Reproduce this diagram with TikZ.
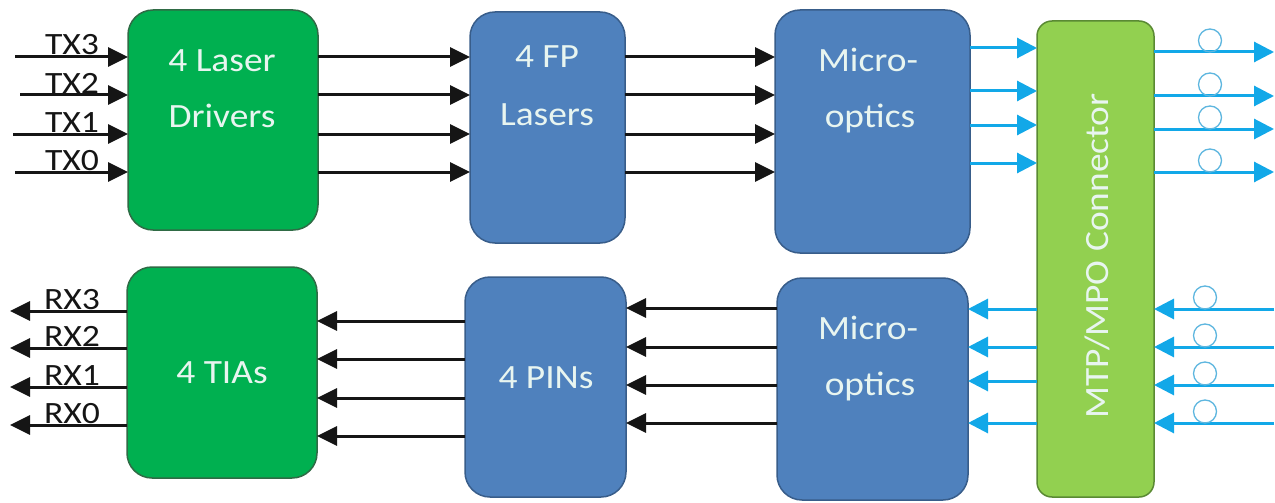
\documentclass[tikz,border=0pt]{standalone}
\usepackage{fontspec}
\setmainfont{Carlito}
\newfontfamily\boxfont[FakeStretch=1.1]{Carlito}
\newfontfamily\lblfont[FakeStretch=1.15]{Carlito}
\usetikzlibrary{arrows.meta}
\definecolor{gfill}{HTML}{00B050}
\definecolor{gdraw}{HTML}{2F6B45}
\definecolor{bfill}{HTML}{4F81BD}
\definecolor{bdraw}{HTML}{385D8A}
\definecolor{cfill}{HTML}{92D050}
\definecolor{cdraw}{HTML}{5A8A33}
\definecolor{txtc}{HTML}{E8F5F0}
\definecolor{lc}{HTML}{151515}
\definecolor{bc}{HTML}{12A8E8}
\definecolor{lpc}{HTML}{5DB6DF}
\tikzset{
  box/.style={rounded corners=25pt, inner sep=0pt, outer sep=0pt, line width=1.5pt},
  gbox/.style={box, fill=gfill, draw=gdraw},
  bbox/.style={box, fill=bfill, draw=bdraw},
  cbox/.style={box, rounded corners=15pt, fill=cfill, draw=cdraw},
  txt/.style={text=txtc, font=\boxfont\fontsize{34}{40}\selectfont, anchor=base, inner sep=0pt},
  lbl/.style={text=lc, font=\lblfont\fontsize{31}{36}\selectfont, anchor=base, inner sep=0pt},
  arr/.style={line width=3pt, draw=lc, -{Triangle[length=20pt 0 0,width=19pt 0 0]}},
  barr/.style={line width=3pt, draw=bc, -{Triangle[length=20pt 0 0,width=20pt 0 0]}},
  loopc/.style={draw=lpc, line width=1.3pt}
}
\begin{document}
\begin{tikzpicture}[x=1pt,y=-1pt]
\useasboundingbox[fill=white] (0,0) rectangle (1275,503);
% boxes
\node[gbox, minimum width=190pt, minimum height=220pt] (ld) at (223,120) {};
\node[bbox, minimum width=155pt, minimum height=231pt] (fp) at (547.5,127.5) {};
\node[bbox, minimum width=195pt, minimum height=243pt] (mo1) at (872.5,131.5) {};
\node[cbox, minimum width=117pt, minimum height=476pt] (conn) at (1095.5,259) {};
\node[gbox, minimum width=190pt, minimum height=211pt] (tia) at (222,372.5) {};
\node[bbox, minimum width=161pt, minimum height=220pt] (pin) at (545.5,387) {};
\node[bbox, minimum width=191pt, minimum height=222pt] (mo2) at (872.5,389) {};
% box texts
\node[txt] (t1) at (222,72) {4 Laser};
\node[txt] (t2) at (222,127) {Drivers};
\node[txt] (t3) at (547,68) {4 FP};
\node[txt] (t4) at (547,125) {Lasers};
\node[txt] (t5) at (868,72) {Micro-};
\node[txt] (t6) at (870,127) {optics};
\node[txt] (t7) at (868,339) {Micro-};
\node[txt] (t8) at (870,395) {optics};
\node[txt] (t9) at (222,383) {4 TIAs};
\node[txt] (t10) at (546,388) {4 PINs};
\node[text=txtc, font=\boxfont\fontsize{34}{40}\selectfont, rotate=90, inner sep=0pt] (t11) at (1097,256) {MTP/MPO Connector};
% TX inputs
\coordinate (tx3) at (15,57);
\coordinate (tx2) at (20,95);
\coordinate (tx1) at (13,134);
\coordinate (tx0) at (15,172);
\foreach \n in {tx3,tx2,tx1,tx0} \draw[arr] (\n) -- (\n -| ld.west);
\node[lbl] (ltx3) at (72,55) {TX3};
\node[lbl] (ltx2) at (72,93) {TX2};
\node[lbl] (ltx1) at (72,132) {TX1};
\node[lbl] (ltx0) at (72,170) {TX0};
% TX chain
\foreach \y in {57,95,134,172} {
  \draw[arr] (ld.east |- 0,\y) -- (fp.west |- 0,\y);
  \draw[arr] (fp.east |- 0,\y) -- (mo1.west |- 0,\y);
}
\foreach \y in {48,91,125,163}
  \draw[barr] (mo1.east |- 0,\y) -- (conn.west |- 0,\y);
\foreach \y [count=\i] in {52,96,129,172} {
  \coordinate (o\i) at (1274,\y);
  \draw[barr] (conn.east |- o\i) -- (o\i);
  \draw[loopc] (1210,\y-11.5) circle[radius=11.5];
}
% RX chain
\foreach \y [count=\i] in {309,347,385,423} {
  \coordinate (i\i) at (1274,\y);
  \draw[barr] (i\i) -- (conn.east |- i\i);
  \draw[loopc] (1205,\y-11.5) circle[radius=11.5];
}
\foreach \y in {309,347,381,423}
  \draw[barr] (conn.west |- 0,\y) -- (mo2.east |- 0,\y);
\foreach \y in {308,347,385,423}
  \draw[arr] (mo2.west |- 0,\y) -- (pin.east |- 0,\y);
\foreach \y in {321,359,398,436}
  \draw[arr] (pin.west |- 0,\y) -- (tia.east |- 0,\y);
\coordinate (rx3) at (10,311);
\coordinate (rx2) at (10,348);
\coordinate (rx1) at (10,387);
\coordinate (rx0) at (10,425);
\foreach \n in {rx3,rx2,rx1,rx0} \draw[arr] (\n -| tia.west) -- (\n);
\node[lbl] (lrx3) at (72,309) {RX3};
\node[lbl] (lrx2) at (72,346) {RX2};
\node[lbl] (lrx1) at (72,385) {RX1};
\node[lbl] (lrx0) at (72,423) {RX0};
\end{tikzpicture}
\end{document}
